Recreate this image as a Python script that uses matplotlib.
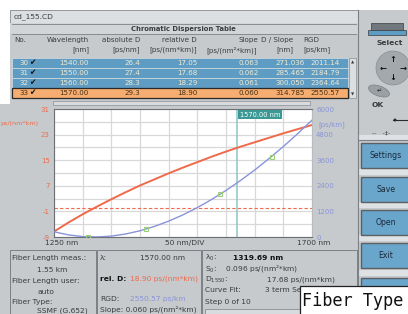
import matplotlib.pyplot as plt
from matplotlib.patches import Rectangle, Circle, Ellipse

# ---- chart data ----
wavelength = [1250, 1275, 1300, 1325, 1350, 1375, 1400, 1425, 1450, 1475,
              1500, 1525, 1550, 1575, 1600, 1625, 1650, 1675, 1700]
rel_d = [-7.3, -4.5, -1.9, 0.5, 2.8, 5.0, 7.1, 9.0, 10.9, 12.7,
         14.4, 16.1, 17.7, 19.2, 20.6, 22.0, 23.4, 24.7, 26.0]
rgd = [246, 99, 19, 1, 43, 141, 292, 494, 743, 1039,
       1378, 1760, 2182, 2642, 3140, 3674, 4241, 4843, 5476]
marker_wl = [1310, 1410, 1540, 1630]
marker_rgd = [12, 380, 2011, 3760]
cursor_wl = 1570

left_ticks = [-9, -1, 7, 15, 23, 31]
right_ticks = [0, 1200, 2400, 3600, 4800, 6000]

# ---- table data ----
table_no = ["30", "31", "32", "33"]
table_wl = ["1540.00", "1550.00", "1560.00", "1570.00"]
table_abs = ["26.4", "27.4", "28.3", "29.3"]
table_rel = ["17.05", "17.68", "18.29", "18.90"]
table_slope = ["0.063", "0.062", "0.061", "0.060"]
table_dslope = ["271.036", "285.465", "300.050", "314.785"]
table_rgd = ["2011.14", "2184.79", "2364.64", "2550.57"]

W, H = 408, 314
GRAY = "#c6cacd"
LIGHT = "#dcdfe1"
BLUE_ROW = "#5f9cc3"
ORANGE = "#f5ad72"
BTN = "#6aa5cb"
RED = "#f0694a"
BLUE = "#8a94da"
DARK = "#3a3c3e"
FS = 5.4

plt.rcParams["font.family"] = ["DejaVu Sans"]

fig = plt.figure(figsize=(W / 100, H / 100), dpi=100)
fig.patch.set_facecolor("white")

ui = fig.add_axes([0, 0, 1, 1])
ui.set_xlim(0, W)
ui.set_ylim(H, 0)
ui.axis("off")


def rect(x, y, w, h, fc, ec="none", lw=0.0, z=1):
    ui.add_patch(Rectangle((x, y), w, h, facecolor=fc, edgecolor=ec, linewidth=lw, zorder=z))


def txt(x, y, s, ha="left", color=DARK, size=FS, **kw):
    ui.text(x, y, s, ha=ha, va="center", color=color, fontsize=size, zorder=5, **kw)


# window backgrounds
rect(0, 104, W, H - 104, GRAY)
rect(10, 10, 348, 95, GRAY)
rect(358, 10, 50, H - 10, GRAY)
ui.plot([358, 358], [10, H], color="#7c8084", lw=0.8, zorder=2)

# title bar
rect(10, 10, 348, 13, LIGHT, ec="#8a8e92", lw=0.6)
txt(14, 16.5, "cd_155.CD")
rect(10, 23, 348, 11, "#d2d5d8")
ui.plot([12, 356], [24, 24], color="#7c8084", lw=0.6, zorder=2)
ui.plot([12, 356], [34, 34], color="#7c8084", lw=0.6, zorder=2)
txt(183, 29.5, "Chromatic Dispersion Table", ha="center", weight="bold", size=4.9)

# column headers
hdr1 = [(14, "No.", "left"), (89, "Wavelength", "right"), (140, "absolute D", "right"),
        (197, "relative D", "right"), (258, "Slope", "right"), (293, "D / Slope", "right"),
        (303, "RGD", "left")]
hdr2 = [(89, "[nm]", "right"), (140, "[ps/nm]", "right"), (197, "[ps/(nm*km)]", "right"),
        (257, "[ps/(nm²*km)]", "right"), (293, "[nm]", "right"), (303, "[ps/km]", "left")]
for x, s, a in hdr1:
    txt(x, 40, s, ha=a, size=5.1)
for x, s, a in hdr2:
    txt(x, 50, s, ha=a, size=5.1)

# table rows
row_top = [58, 68, 78, 88]
for i in range(4):
    y0 = row_top[i]
    sel = i == 3
    rect(12, y0, 336, 9.5, ORANGE if sel else BLUE_ROW,
         ec="#2a2a2a" if sel else "#e4e8ea", lw=0.9 if sel else 0.4)
    col = "#4a3010" if sel else "#f1ead0"
    yc = y0 + 5
    txt(28, yc, table_no[i], ha="right", color=col, size=5.1)
    txt(29, yc, "\u2714", color="#111111", size=5.5)
    txt(89, yc, table_wl[i], ha="right", color=col, size=5.1)
    txt(140, yc, table_abs[i], ha="right", color=col, size=5.1)
    txt(197, yc, table_rel[i], ha="right", color=col, size=5.1)
    txt(259, yc, table_slope[i], ha="right", color=col, size=5.1)
    txt(305, yc, table_dslope[i], ha="right", color=col, size=5.1)
    txt(340, yc, table_rgd[i], ha="right", color=col, size=5.1)

# scroll bar
rect(349, 58, 7, 40, LIGHT, ec="#8a8e92", lw=0.5)
txt(352.5, 62, "\u25b2", ha="center", size=3)
txt(352.5, 94, "\u25bc", ha="center", size=3)
rect(53, 101, 257, 4, "#d8dbde", ec="#8a8e92", lw=0.5)

# axis annotations around the plot
txt(0, 124, "ps/(nm*km)", color=RED, size=4.6)
txt(318, 125, "[ps/km]", color=BLUE, size=5)
txt(45, 243, "1250 nm")
txt(185, 243, "50 nm/DIV", ha="center")
txt(297, 243, "1700 nm")

# bottom panels
rect(10, 250, 86, 70, GRAY, ec="#7c8084", lw=0.7)
rect(97, 250, 104, 70, GRAY, ec="#7c8084", lw=0.7)
rect(202, 250, 155, 70, GRAY, ec="#7c8084", lw=0.7)
txt(12, 258, "Fiber Length meas.:")
txt(37, 269.5, "1.55 km")
txt(12, 280.5, "Fiber Length user:")
txt(37, 291.5, "auto")
txt(12, 302, "Fiber Type:")
txt(37, 311, "SSMF (G.652)")

txt(100, 258, "λ:")
txt(140, 258, "1570.00 nm")
txt(100, 279, "rel. D:", weight="bold", color="#111111")
txt(130, 279, "18.90 ps/(nm*km)", color=RED)
txt(100, 299, "RGD:")
txt(130, 299, "2550.57 ps/km", color=BLUE)
txt(100, 309.5, "Slope: 0.060 ps/(nm²*km)")

txt(205, 258, r"λ$_0$:")
txt(233, 258, "1319.69 nm", weight="bold", color="#111111")
txt(205, 268.5, r"S$_0$:    0.096 ps/(nm²*km)")
txt(205, 279.5, r"D$_{1550}$:")
txt(267, 279.5, "17.68 ps/(nm*km)")
txt(205, 290, "Curve Fit:")
txt(265, 290, "3 term Se")
txt(205, 302, "Step 0 of 10")
rect(205, 309, 95, 5, "#d8dbde", ec="#7c8084", lw=0.5)

# tooltip
rect(300, 286, 110, 30, "white", ec="#222222", lw=0.9, z=6)
ui.text(302, 300.5, "Fiber Type", family="DejaVu Sans Mono", fontsize=12.2,
        va="center", ha="left", color="#111111", zorder=7)

# right control panel
rect(371, 23, 32, 7, "#70777d", ec="#3a3c3e", lw=0.5)
rect(368, 30, 38, 5, BLUE_ROW, ec="#3a3c3e", lw=0.5)
txt(390, 43, "Select", ha="center", weight="bold")
ui.add_patch(Circle((393, 68), 17, facecolor="#a3a8ac", edgecolor="#8a8e92", lw=0.5, zorder=2))
txt(393, 60, "\u2191", ha="center", color="#111111", size=6, weight="bold")
txt(393, 77, "\u2193", ha="center", color="#111111", size=6, weight="bold")
txt(383, 68, "\u2190", ha="center", color="#111111", size=6, weight="bold")
txt(403, 68, "\u2192", ha="center", color="#111111", size=6, weight="bold")
ui.add_patch(Ellipse((379, 91), 22, 10, angle=20, facecolor="#9ba0a5",
                     edgecolor="#7c8084", lw=0.5, zorder=2))
txt(379, 91, "\u21b5", ha="center", color="#222222", size=4.5)
txt(372, 105, "OK", weight="bold")
ui.plot([393, 408], [120, 120], color="#2a2a2a", lw=0.8, zorder=3)
ui.add_patch(Circle((395, 120), 1.5, facecolor="#2a2a2a", zorder=3))
txt(372, 133, "--   -\u2021-", size=4.5)
ui.plot([358, 408], [140, 140], color="#7c8084", lw=0.8, zorder=2)

buttons = [(143, "Settings"), (177, "Save"), (210, "Open"), (243, "Exit"), (278, "")]
for y0, label in buttons:
    rect(358, y0 - 8, 50, 6, "#dfe2e4")
    rect(361, y0, 50, 25, BTN, ec="#5c6064", lw=1.0, z=2)
    if label:
        txt(386, y0 + 12.5, label, ha="center", color="#1a2a3a", size=5.6)

# ---- the chart ----
ax = fig.add_axes([54 / W, 1 - 237 / H, 258 / W, 128 / H])
ax.set_facecolor("white")
ax.set_xlim(1250, 1700)
ax.set_ylim(-9, 31)
ax.set_xticks(range(1250, 1701, 50))
ax.set_xticklabels([])
ax.set_yticks(range(-9, 32, 4))
ax.set_yticklabels([str(v) if v in left_ticks else "" for v in range(-9, 32, 4)])
ax.grid(True, color="#d8d8d8", lw=0.9)
ax.set_axisbelow(True)
ax.tick_params(length=0, pad=3, labelsize=5, labelcolor=RED)
ax.tick_params(axis="x", pad=0)
for s in ax.spines.values():
    s.set_color("#6c7074")
    s.set_linewidth(0.8)
ax.spines["right"].set_color("#b8bcc0")

ax.axhline(0, color=RED, lw=0.8, ls=(0, (3, 2)))
ax.axvline(cursor_wl, color="#8cc6c4", lw=1.1)
ax.plot(wavelength, rel_d, color=RED, lw=1.4)
ax.annotate(f"{cursor_wl:.2f} nm", xy=(cursor_wl, 31), xytext=(1.5, -4),
            textcoords="offset points", ha="left", va="center", fontsize=4.8,
            color="white", bbox=dict(boxstyle="square,pad=0.25", fc="#3a9994", ec="none"))

ax2 = ax.twinx()
ax2.set_ylim(0, 6000)
ax2.set_yticks(right_ticks)
ax2.tick_params(length=0, pad=3, labelsize=5, labelcolor=BLUE)
for s in ax2.spines.values():
    s.set_visible(False)
ax2.plot(wavelength, rgd, color=BLUE, lw=1.0)
ax2.plot(marker_wl, marker_rgd, ls="none", marker="s", ms=3, mfc="none",
         mec="#9ccf7a", mew=0.8)

fig.savefig("out.png", dpi=100)
